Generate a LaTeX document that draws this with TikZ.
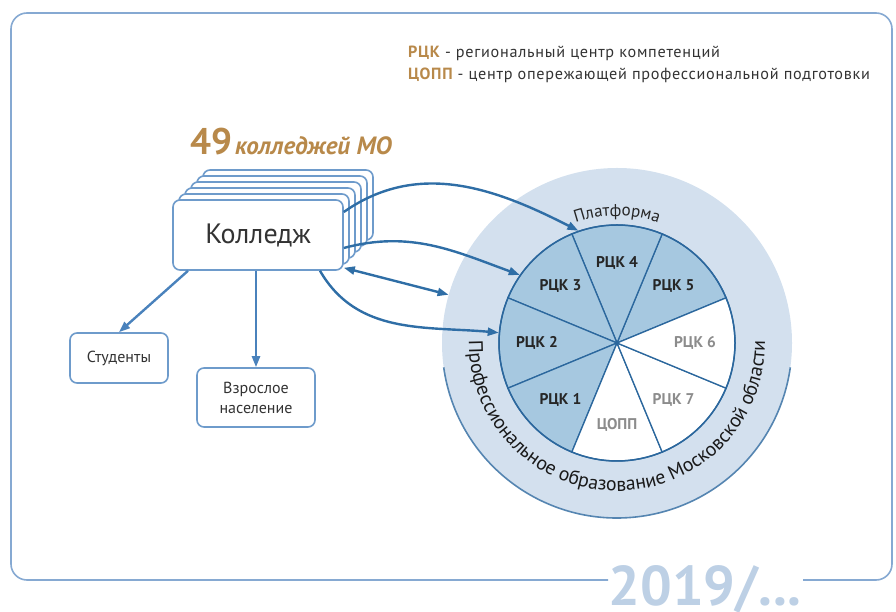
\documentclass[tikz,border=0pt]{standalone}
\usepackage{fontspec}
\setmainfont{PT Sans}
\newfontfamily\legendfont[LetterSpace=4.5]{PT Sans}
\usetikzlibrary{arrows.meta,decorations.text,calc}
\definecolor{frameblue}{HTML}{86A9D2}
\definecolor{boxblue}{HTML}{6E9BCB}
\definecolor{arrowblue}{HTML}{2F6EA6}
\definecolor{downblue}{HTML}{4A82BC}
\definecolor{ringfill}{HTML}{D3E0EE}
\definecolor{secfill}{HTML}{A6C8E0}
\definecolor{pieline}{HTML}{2B679D}
\definecolor{goldtext}{HTML}{B8894A}
\definecolor{yeartext}{HTML}{BDD0E5}
\definecolor{darktext}{HTML}{333333}
\definecolor{graylabel}{HTML}{8C8C8C}
\begin{document}
\begin{tikzpicture}[x=1pt,y=1pt,
  card/.style={draw=boxblue, line width=1.6pt, fill=white, rounded corners=7pt, text=darktext, inner sep=2pt},
  conn/.style={draw=arrowblue, line width=2.4pt, -{Triangle[length=11pt,width=8pt]}},
  downconn/.style={draw=downblue, line width=2.4pt, -{Triangle[length=11pt,width=8pt]}},
  seclabel/.style={font=\fontsize{15.5}{15.5}\selectfont\bfseries, text=black!85},
  seclabelw/.style={font=\fontsize{15.5}{15.5}\selectfont\bfseries, text=graylabel}]
\useasboundingbox (0,0) rectangle (896,612);

% year label and frame
\node[anchor=base, inner sep=0pt, font=\fontsize{56}{56}\selectfont\bfseries, text=yeartext] (yr) at (705,6) {2019/...};
\draw[frameblue, line width=1.6pt, rounded corners=16pt] (608,32) -- (11,32) -- (11,599) -- (892,599) -- (892,32) -- (803,32);

% legend
\node[anchor=base west, inner sep=0pt, font=\legendfont\fontsize{16.2}{16.2}\selectfont, text=darktext] (leg1) at (408,554) {\textcolor{goldtext}{\bfseries РЦК} - региональный центр компетенций};
\node[anchor=base west, inner sep=0pt, font=\legendfont\fontsize{16.2}{16.2}\selectfont, text=darktext] (leg2) at (408,532) {\textcolor{goldtext}{\bfseries ЦОПП} - центр опережающей профессиональной подготовки};

% circle
\coordinate (C) at (617,269);
\node[circle, fill=ringfill, minimum size=350pt, inner sep=0pt] (ring) at (C) {};
\draw[pieline!80, line width=1.6pt] ($(C)+(188:175)$) arc[start angle=188, end angle=352, radius=175];
\foreach \a/\f in {22.5/secfill, 67.5/secfill, 112.5/secfill, 157.5/secfill, 202.5/secfill, 247.5/white, 292.5/white, 337.5/white}
  \filldraw[fill=\f, draw=pieline, line width=1.3pt] (C) -- ++(\a:118) arc[start angle=\a, end angle=\a+45, radius=118] -- cycle;
\node[circle, minimum size=236pt, inner sep=0pt, draw=pieline, line width=1.5pt] (pie) at (C) {};

\node[seclabel] (r4) at ($(C)+(90:80)$) {РЦК 4};
\node[seclabel] (r5) at ($(C)+(45:80)$) {РЦК 5};
\node[seclabel] (r3) at ($(C)+(135:80)$) {РЦК 3};
\node[seclabel] (r2) at ($(C)+(180:80)$) {РЦК 2};
\node[seclabel] (r1) at ($(C)+(225:80)$) {РЦК 1};
\node[seclabelw] (r6) at ($(C)+(0:78)$) {РЦК 6};
\node[seclabelw] (r7) at ($(C)+(-45:80)$) {РЦК 7};
\node[seclabelw] (copp) at ($(C)+(-90:82)$) {ЦОПП};

\path[decorate, decoration={text along path, text align=center,
  text={|\fontsize{17}{17}\selectfont\color{black!85}|Платформа}}]
  ($(C)+(150:127)$) arc[start angle=150, end angle=30, radius=127];
\path[decorate, decoration={text along path, text align=center,
  text={|\fontsize{19.8}{19.8}\selectfont\color{black!90}|Профессиональное образование Московской области}}]
  ($(C)+(160:148)$) arc[start angle=160, end angle=380, radius=148];

% college stack
\foreach \k in {5,4,3,2,1}
  \node[card, minimum width=170pt, minimum height=70pt] (back\k) at ({258+6*\k},{377+6*\k}) {};
\node[card, minimum width=170pt, minimum height=70pt, font=\fontsize{28}{28}\selectfont] (col) at (258,377) {Колледж};

\node[anchor=base west, inner sep=0pt, text=goldtext] (title) at (190,457)
  {{\fontsize{37}{37}\selectfont\bfseries 49}\hspace{3pt}{\fontsize{25}{25}\selectfont\bfseries\itshape колледжей МО}};

\node[card, minimum width=98pt, minimum height=50pt, font=\fontsize{16}{16}\selectfont] (stud) at (119,254) {Студенты};
\node[card, minimum width=118pt, minimum height=59pt, align=center, font=\fontsize{16}{20}\selectfont] (vzr) at (256,214.5) {Взрослое\\население};

% connectors
\draw[downconn] ([xshift=-70pt]col.south) -- (stud.north);
\draw[downconn] (col.south -| vzr.north) -- (vzr.north);
\draw[conn] ([yshift=23pt]col.east) to[out=35,in=153] (pie.109);
\draw[conn] ([yshift=-13pt]col.east) to[out=15,in=160] (pie.145);
\draw[conn, {Triangle[length=11pt,width=8pt]}-{Triangle[length=11pt,width=8pt]}] ([yshift=3pt]col.south east) -- (ring.164);
\draw[conn] ([xshift=62pt]col.south) to[out=-60,in=175] (pie.175);
\end{tikzpicture}
\end{document}
